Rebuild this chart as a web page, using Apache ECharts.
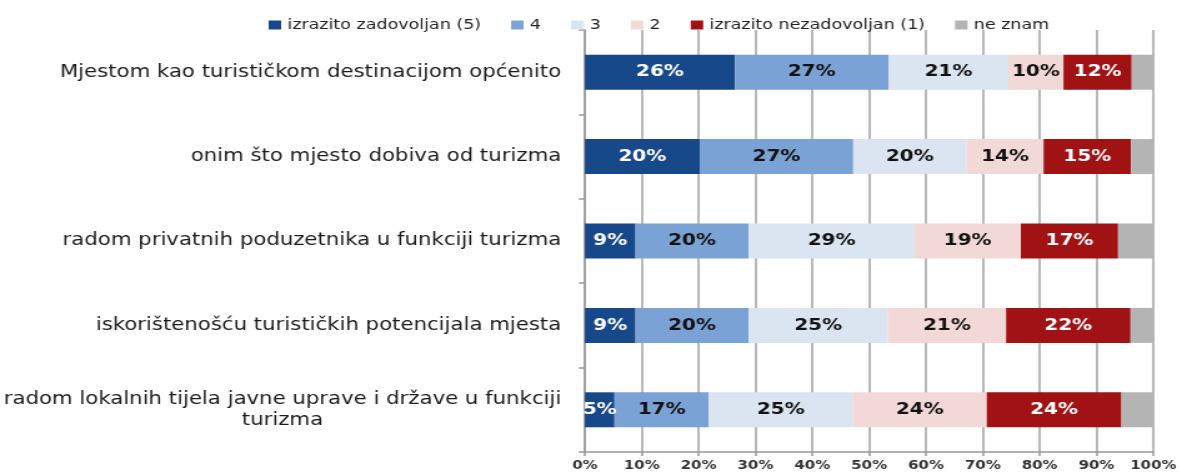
<!DOCTYPE html>
<html>
<head>
<meta charset="utf-8">
<script src="https://cdn.jsdelivr.net/npm/echarts@6/dist/echarts.min.js"></script>
<style>
  html, body { margin: 0; padding: 0; background: #fff; overflow: hidden; }
  /* the reference is stretched sideways, so lay out narrower and widen */
  #chart { width: 946px; height: 476px; transform: scaleX(1.2495); transform-origin: 0 0; }
</style>
</head>
<body>
<div id="chart"></div>
<script>
'use strict';

const categories = [
  'Mjestom kao turističkom destinacijom općenito',
  'onim što mjesto dobiva od turizma',
  'radom privatnih poduzetnika u funkciji turizma',
  'iskorištenošću turističkih potencijala mjesta',
  'radom lokalnih tijela javne uprave i države u funkciji\nturizma'
];
const seriesNames = ['izrazito zadovoljan (5)', '4', '3', '2', 'izrazito nezadovoljan (1)', 'ne znam'];
const s5 = [26.4, 20.2, 8.9, 8.9, 5.2];
const s4 = [27.0, 27.0, 19.9, 19.9, 16.6];
const s3 = [21.1, 19.9, 29.2, 24.5, 25.3];
const s2 = [9.7, 13.6, 18.7, 20.8, 23.6];
const s1 = [12.0, 15.4, 17.1, 21.9, 23.7];
const sNo = [3.8, 3.9, 6.2, 4.0, 5.6];

const colors = ['#17488a', '#7ba2d4', '#dbe5f1', '#f2d9d8', '#a11214', '#b4b4b4'];
const labelColors = ['#ffffff', '#111111', '#111111', '#111111', '#ffffff', null];
const values = [s5, s4, s3, s2, s1, sNo];

const chart = echarts.init(document.getElementById('chart'));

const series = values.map((data, i) => ({
  name: seriesNames[i],
  type: 'bar',
  stack: 'total',
  barWidth: 35,
  data: data,
  itemStyle: { color: colors[i] },
  label: {
    show: labelColors[i] !== null,
    position: 'inside',
    color: labelColors[i] || '#000',
    fontFamily: 'DejaVu Sans',
    fontWeight: 'bold',
    fontSize: 16,
    formatter: (p) => Math.round(p.value) + '%'
  }
}));

chart.setOption({
  animation: false,
  backgroundColor: '#ffffff',
  legend: {
    data: seriesNames,
    left: 210,
    top: 13,
    icon: 'rect',
    itemWidth: 10,
    itemHeight: 9,
    itemGap: 24,
    textStyle: { fontFamily: 'DejaVu Sans', fontSize: 14, color: '#222' }
  },
  grid: { left: 468, right: 23, top: 30, bottom: 24, containLabel: false },
  xAxis: {
    type: 'value',
    min: 0,
    max: 100,
    interval: 10,
    axisLine: { show: true, lineStyle: { color: '#999999', width: 1.5 } },
    axisTick: { show: true, length: 4, lineStyle: { color: '#999999', width: 1.5 } },
    splitLine: { show: true, lineStyle: { color: '#a0a0a0', width: 1.5 } },
    axisLabel: {
      formatter: '{value}%',
      margin: 8,
      fontFamily: 'DejaVu Sans',
      fontWeight: 'bold',
      fontSize: 12,
      color: '#333'
    }
  },
  yAxis: {
    type: 'category',
    inverse: true,
    data: categories,
    axisLine: { show: true, lineStyle: { color: '#999999', width: 1.5 } },
    axisTick: { show: true, length: 5, lineStyle: { color: '#999999', width: 1.5 } },
    axisLabel: {
      margin: 19,
      color: '#1a1a1a',
      formatter: (v) => '{a|' + v + '}',
      rich: {
        a: {
          fontFamily: 'DejaVu Sans',
          fontSize: 17,
          lineHeight: 21,
          color: '#1a1a1a',
          align: 'center'
        }
      }
    }
  },
  series: series
});
</script>
</body>
</html>
